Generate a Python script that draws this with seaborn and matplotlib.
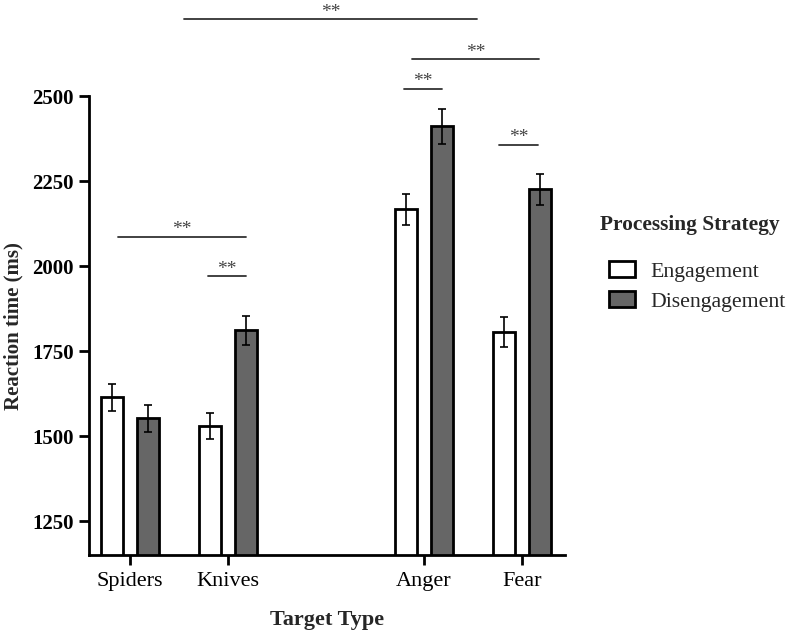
import matplotlib
matplotlib.use("Agg")
import matplotlib.pyplot as plt
import seaborn as sns
import pandas as pd

# values (means and standard errors, ms)
categories = ["Spiders", "Knives", "Anger", "Fear"]
strategies = ["Engagement", "Disengagement"]
engagement_means = [1614, 1531, 2167, 1806]
disengagement_means = [1552, 1812, 2412, 2226]
engagement_se = [40, 38, 46, 45]
disengagement_se = [39, 43, 51, 46]

# significance comparisons: (left x, right x, height in ms)
comparisons = [
    (0.55, 3.54, 2727),
    (2.88, 4.17, 2609),
    (2.80, 3.18, 2523),
    (3.77, 4.16, 2358),
    (-0.12, 1.18, 2087),
    (0.80, 1.18, 1970),
]
sig_label = "**"

df = pd.DataFrame({
    "target": categories * 2,
    "strategy": [strategies[0]] * 4 + [strategies[1]] * 4,
    "rt": engagement_means + disengagement_means,
    "se": engagement_se + disengagement_se,
})

sns.set_style("ticks")
plt.rcParams["font.family"] = ["Liberation Serif", "DejaVu Serif"]

fig = plt.figure(figsize=(7.86, 6.38), dpi=100)
ax = fig.add_axes([0.113, 0.130, 0.606, 0.719])

order = ["Spiders", "Knives", "", "Anger", "Fear"]
sns.barplot(data=df, x="target", y="rt", hue="strategy", order=order,
            hue_order=strategies, palette={"Engagement": "white", "Disengagement": "#666666"},
            edgecolor="black", linewidth=2, width=0.74, gap=0.38, errorbar=None, ax=ax)

# error bars on top of each bar
se_lookup = {(r.target, r.strategy): r.se for r in df.itertuples()}
for p in ax.patches:
    h = p.get_height()
    if h <= 0:
        continue
    xc = p.get_x() + p.get_width() / 2
    idx = int(round(xc))
    strat = strategies[0] if xc < idx else strategies[1]
    ax.errorbar(xc, h, yerr=se_lookup[(order[idx], strat)], color="black",
                capsize=3, elinewidth=1.2, capthick=1.2, zorder=5)

# significance lines
for x1, x2, y in comparisons:
    ax.plot([x1, x2], [y, y], color="#333333", lw=1.3, clip_on=False)
    ax.annotate(sig_label, ((x1 + x2) / 2, y), xytext=(0, 5), textcoords="offset points",
                ha="center", va="center", fontsize=14, color="#444444",
                annotation_clip=False)

ax.set_ylim(1150, 2500)
ax.set_xlim(-0.42, 4.44)
ax.set_yticks([1250, 1500, 1750, 2000, 2250, 2500])
ax.set_xticks([0, 1, 3, 4])
ax.set_xticklabels(categories, fontsize=16)
for t in ax.get_yticklabels():
    t.set_fontsize(15)
    t.set_fontweight("bold")

ax.set_xlabel("Target Type", fontsize=16, fontweight="bold", labelpad=14)
ax.set_ylabel("Reaction time (ms)", fontsize=15, fontweight="bold", labelpad=6)

sns.despine(ax=ax)
for s in ["left", "bottom"]:
    ax.spines[s].set_linewidth(2)
    ax.spines[s].set_color("black")
ax.tick_params(axis="both", length=7, width=2, color="black", labelcolor="black")
ax.tick_params(axis="x", pad=5)
ax.tick_params(axis="y", pad=4)

handles, labels = ax.get_legend_handles_labels()
for hnd in handles:
    hnd.set_edgecolor("black")
    hnd.set_linewidth(2)
ax.legend(handles, labels, loc="upper left",
          bbox_to_anchor=(609 / 786, 1 - 261 / 638), bbox_transform=fig.transFigure,
          frameon=False, fontsize=15.7, handlelength=1.19, handleheight=0.78,
          handletextpad=0.69, labelspacing=0.42, borderpad=0, borderaxespad=0)
fig.text(600 / 786, 1 - 225 / 638, "Processing Strategy", fontsize=15.4,
         fontweight="bold", ha="left", va="center")

fig.savefig("out.png", dpi=100)
